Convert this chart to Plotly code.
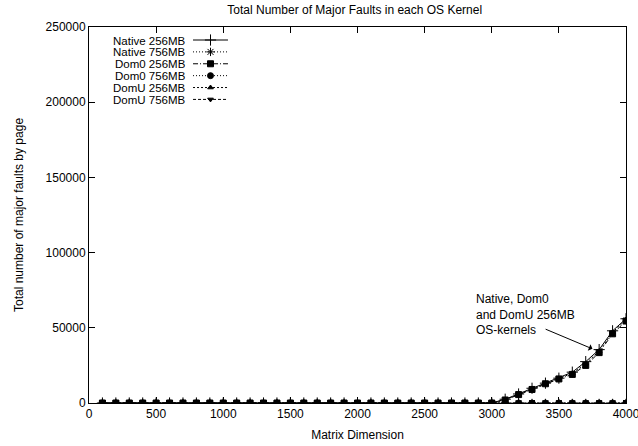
import plotly.graph_objects as go

# Matrix dimensions sampled
dims = list(range(100, 4100, 100))

# Major page faults per kernel configuration (zero until memory pressure sets in)
native_256_tail = [2500, 6000, 9800, 13200, 16500, 20500, 27500, 35500, 48000, 56000]
dom0_256_tail = [2000, 5600, 9000, 12800, 16000, 19000, 25000, 33500, 46000, 54500]
domu_256_tail = [2200, 5800, 9400, 13000, 16200, 19800, 26200, 34500, 47000, 55500]

native_256 = [0] * 30 + native_256_tail
native_756 = [0] * 40
dom0_256 = [0] * 30 + dom0_256_tail
dom0_756 = [0] * 40
domu_256 = [0] * 30 + domu_256_tail
domu_756 = [0] * 40

series_names = ["Native 256MB", "Native 756MB", "Dom0 256MB",
                "Dom0 756MB", "DomU 256MB", "DomU 756MB"]
series_values = [native_256, native_756, dom0_256, dom0_756, domu_256, domu_756]

styles = [
    dict(dash="solid", symbol="cross-thin", size=8),
    dict(dash="1px,2px", symbol="asterisk", size=7),
    dict(dash="5px,2px,1px,2px", symbol="square", size=6),
    dict(dash="1px,2px", symbol="circle", size=6),
    dict(dash="2px,2px", symbol="triangle-up", size=5),
    dict(dash="3px,2px", symbol="triangle-down", size=5),
]

FONT = "Liberation Sans, Arial, sans-serif"
FS = 12
KEY_FS = 11.5

fig = go.Figure()

for name, vals, st in zip(series_names, series_values, styles):
    fig.add_trace(go.Scatter(
        x=dims, y=vals, name=name, mode="lines+markers",
        line=dict(color="black", width=1, dash=st["dash"]),
        marker=dict(symbol=st["symbol"], size=st["size"], color="black",
                    line=dict(color="black", width=1)),
        showlegend=False, hoverinfo="skip",
    ))

# Key drawn gnuplot-style: label right-aligned, sample line with marker on its right
key_x0, key_x1 = 0.1937, 0.2588
key_top, key_step = 0.9654, 0.0316
for i, (name, st) in enumerate(zip(series_names, styles)):
    yk = key_top - i * key_step
    fig.add_trace(go.Scatter(
        x=[key_x0, (key_x0 + key_x1) / 2, key_x1], y=[yk, yk, yk],
        xaxis="x2", yaxis="y2", mode="lines",
        line=dict(color="black", width=1, dash=st["dash"]),
        showlegend=False, hoverinfo="skip",
    ))
    fig.add_trace(go.Scatter(
        x=[(key_x0 + key_x1) / 2], y=[yk],
        xaxis="x2", yaxis="y2", mode="markers",
        marker=dict(symbol=st["symbol"], size=st["size"], color="black",
                    line=dict(color="black", width=1)),
        showlegend=False, hoverinfo="skip",
    ))
    fig.add_annotation(
        x=0.1825, y=yk, xref="paper", yref="paper", text=name,
        showarrow=False, xanchor="right", yanchor="middle",
        height=11, valign="middle", borderpad=0,
        font=dict(family=FONT, size=KEY_FS, color="black"),
    )

# Callout for the memory-constrained kernels
fig.add_annotation(
    x=3750, y=36000, ax=3390, ay=49500, xref="x", yref="y",
    axref="x", ayref="y",
    text="", showarrow=True, arrowhead=1, arrowsize=1.2, arrowwidth=1,
    arrowcolor="black",
)
fig.add_annotation(
    x=2870, y=75000, xref="x", yref="y", xanchor="left", yanchor="top",
    text="Native, Dom0<br>and DomU 256MB<br>OS-kernels", align="left",
    showarrow=False, font=dict(family=FONT, size=FS, color="black"),
)

axis_common = dict(
    showline=True, linecolor="black", linewidth=1, mirror="ticks",
    ticks="inside", ticklen=6, tickcolor="black", tickwidth=1,
    showgrid=False, zeroline=False, tickformat="d",
    ticklabeloverflow="allow", automargin=False,
    tickfont=dict(family=FONT, size=FS, color="black"),
)

fig.update_layout(
    width=638, height=446,
    margin=dict(l=89, r=12, t=27, b=43),
    paper_bgcolor="white", plot_bgcolor="white",
    title=dict(text="Total Number of Major Faults in each OS Kernel",
               x=0.556, xanchor="center", y=0.978, yanchor="middle",
               font=dict(family=FONT, size=FS, color="black")),
    xaxis=dict(range=[0, 4000], tick0=0, dtick=500,
               title=dict(text="Matrix Dimension", standoff=10,
                          font=dict(family=FONT, size=FS, color="black")),
               **axis_common),
    yaxis=dict(range=[0, 250000], tick0=0, dtick=50000,
               title=dict(text="Total number of major faults by page", standoff=19,
                          font=dict(family=FONT, size=FS, color="black")),
               **axis_common),
    xaxis2=dict(overlaying="x", anchor="y2", range=[0, 1], visible=False),
    yaxis2=dict(overlaying="y", anchor="x2", range=[0, 1], visible=False),
)

fig.write_html("out.html")
